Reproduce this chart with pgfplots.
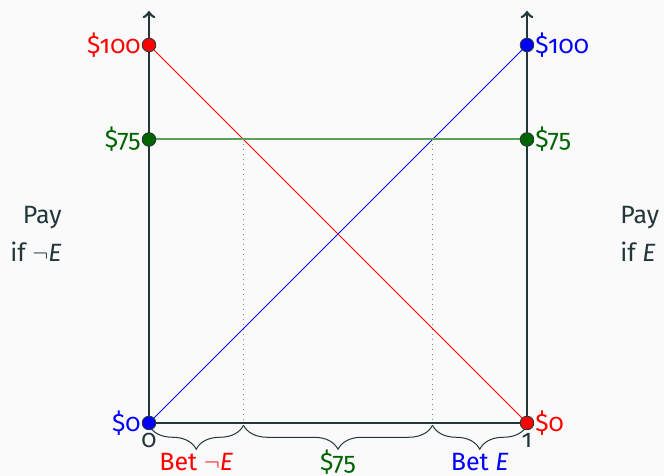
\documentclass[border=0pt]{standalone}
\usepackage{pgfplots}
\pgfplotsset{compat=1.18}
\usepackage{fontspec}
\setmainfont{Fira Sans}[Numbers=OldStyle]
\usetikzlibrary{decorations.pathreplacing}
\definecolor{mDark}{RGB}{35,55,59}
\definecolor{bg}{RGB}{250,250,250}
\definecolor{dgreen}{RGB}{0,100,0}
\definecolor{glight}{RGB}{90,160,90}
\begin{document}
\begin{tikzpicture}[font=\fontsize{12.5}{15}\selectfont]
\path[use as bounding box, fill=bg] (-74.5pt,-26.5pt) rectangle (257.5pt,211.5pt);
\begin{axis}[at={(0,0)}, anchor=south west, scale only axis,
  width=189pt, height=206.01pt, xmin=0, xmax=1, ymin=0, ymax=109,
  hide axis, clip=false]
\addplot[gray, dotted, line width=0.5pt] coordinates {(0.25,75) (0.25,0)};
\addplot[gray, dotted, line width=0.5pt] coordinates {(0.75,75) (0.75,0)};
\addplot[red, line width=0.5pt] coordinates {(0,100) (1,0)};
\addplot[blue, line width=0.5pt] coordinates {(0,0) (1,100)};
\addplot[glight, line width=1pt] coordinates {(0,75) (1,75)};
\draw[mDark, line width=1.3pt, ->] (axis cs:0,0) -- (axis cs:0,109);
\draw[mDark, line width=1.3pt, ->] (axis cs:1,0) -- (axis cs:1,109);
\draw[mDark, line width=1.3pt] (axis cs:0,0) -- (axis cs:1,0);
\draw[mDark, line width=0.5pt, decorate, decoration={brace, mirror, amplitude=12pt}] (axis cs:0,-0.6) -- (axis cs:0.25,-0.6);
\draw[mDark, line width=0.5pt, decorate, decoration={brace, mirror, amplitude=12pt}] (axis cs:0.25,-0.6) -- (axis cs:0.75,-0.6);
\draw[mDark, line width=0.5pt, decorate, decoration={brace, mirror, amplitude=12pt}] (axis cs:0.75,-0.6) -- (axis cs:1,-0.6);
\addplot[only marks, mark=*, mark size=3.4pt, mark options={fill=red, draw=mDark, line width=0.4pt}] coordinates {(0,100) (1,0)};
\addplot[only marks, mark=*, mark size=3.4pt, mark options={fill=blue, draw=mDark, line width=0.4pt}] coordinates {(0,0) (1,100)};
\addplot[only marks, mark=*, mark size=3.4pt, mark options={fill=dgreen, draw=mDark, line width=0.4pt}] coordinates {(0,75) (1,75)};
\node[red, anchor=east, inner sep=0pt] at ([xshift=-4pt]axis cs:0,100) {\$100};
\node[dgreen, anchor=east, inner sep=0pt] at ([xshift=-4pt]axis cs:0,75) {\$75};
\node[blue, anchor=east, inner sep=0pt] at ([xshift=-4pt]axis cs:0,0) {\$0};
\node[blue, anchor=west, inner sep=0pt] at ([xshift=4pt]axis cs:1,100) {\$100};
\node[dgreen, anchor=west, inner sep=0pt] at ([xshift=4pt]axis cs:1,75) {\$75};
\node[red, anchor=west, inner sep=0pt] at ([xshift=4pt]axis cs:1,0) {\$0};
\node[mDark, anchor=base, inner sep=0pt] at ([yshift=-12.5pt]axis cs:0,0) {0};
\node[mDark, anchor=base, inner sep=0pt] at ([yshift=-12.5pt]axis cs:1,0) {1};
\node[red, anchor=base, inner sep=0pt] at ([yshift=-24pt]axis cs:0.125,0) {Bet $\neg$\textit{E}};
\node[dgreen, anchor=base, inner sep=0pt] at ([yshift=-24pt]axis cs:0.5,0) {\$75};
\node[blue, anchor=base, inner sep=0pt] at ([yshift=-24pt]axis cs:0.875,0) {Bet \textit{E}};
\node[mDark, anchor=east, align=right, inner sep=0pt] at ([xshift=-43.5pt]axis cs:0,50) {Pay\\[4pt]if $\neg$\textit{E}};
\node[mDark, anchor=west, align=left, inner sep=0pt] at ([xshift=46.5pt]axis cs:1,50) {Pay\\[4pt]if \textit{E}};
\end{axis}
\end{tikzpicture}
\end{document}
